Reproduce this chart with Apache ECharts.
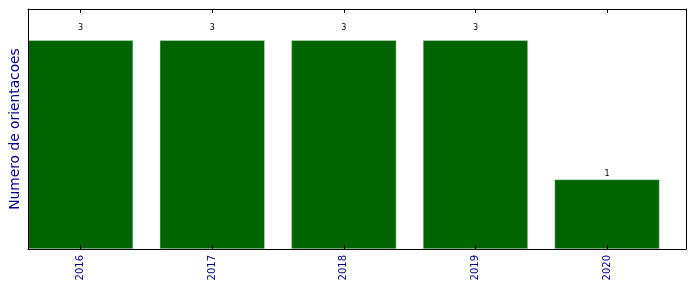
<!DOCTYPE html>
<html>
<head>
<meta charset="utf-8">
<script src="https://cdn.jsdelivr.net/npm/echarts@6/dist/echarts.min.js"></script>
<style>html,body{margin:0;padding:0;background:#fff}#c{width:696px;height:292px}</style>
</head>
<body>
<div id="c"></div>
<script>
const years = ['2016', '2017', '2018', '2019', '2020'];
const counts = [3, 3, 3, 3, 1];
const positions = [0, 1, 2, 3, 4];

const chart = echarts.init(document.getElementById('c'), null, {renderer: 'canvas'});
const font = 'DejaVu Sans';
const tickStyle = {show: true, inside: true, length: 4, lineStyle: {color: '#000', width: 1}, customValues: positions};
chart.setOption({
  animation: false,
  grid: {left: 27, right: 10, top: 9, bottom: 43, containLabel: false},
  xAxis: [{
    type: 'value', min: -0.4, max: 4.6, position: 'bottom', z: 5,
    axisLine: {show: true, onZero: false, lineStyle: {color: '#000', width: 1}},
    axisTick: tickStyle,
    splitLine: {show: false},
    axisLabel: {
      show: true, customValues: positions, rotate: 90, margin: 6,
      fontFamily: font, fontSize: 10, color: '#00008b',
      formatter: v => years[Math.round(v)]
    }
  }, {
    type: 'value', min: -0.4, max: 4.6, position: 'top', z: 5,
    axisLine: {show: true, onZero: false, lineStyle: {color: '#000', width: 1}},
    axisTick: tickStyle,
    splitLine: {show: false},
    axisLabel: {show: false}
  }],
  yAxis: [{
    type: 'value', min: 0, max: 3.45, position: 'left', z: 5,
    name: 'Numero de orientacoes', nameLocation: 'middle', nameGap: 6,
    nameTextStyle: {fontFamily: font, fontSize: 13.8, color: '#00008b'},
    axisLine: {show: true, onZero: false, lineStyle: {color: '#000', width: 1}},
    axisTick: {show: false}, axisLabel: {show: false}, splitLine: {show: false}
  }, {
    type: 'value', min: 0, max: 3.45, position: 'right', z: 5,
    axisLine: {show: true, onZero: false, lineStyle: {color: '#000', width: 1}},
    axisTick: {show: false}, axisLabel: {show: false}, splitLine: {show: false}
  }],
  series: [{
    type: 'bar',
    xAxisIndex: 0, yAxisIndex: 0,
    data: counts.map((v, i) => ({
      value: [positions[i], v],
      label: {distance: 3 * v - 1}
    })),
    barWidth: 105,
    itemStyle: {color: '#006400', borderColor: '#c8e6c8', borderWidth: 0.5},
    label: {show: true, position: 'top', fontFamily: font, fontSize: 8, color: '#000'}
  }]
});
</script>
</body>
</html>
